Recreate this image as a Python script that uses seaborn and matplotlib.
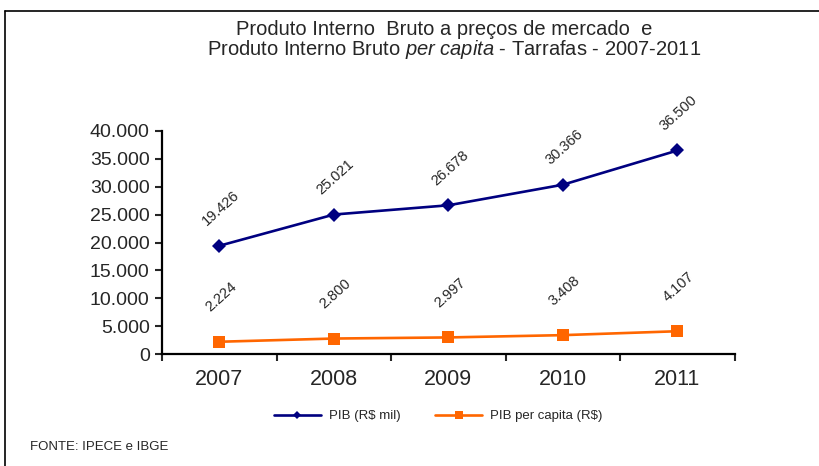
import seaborn as sns
import matplotlib.pyplot as plt
import matplotlib.lines as mlines
from matplotlib.ticker import FuncFormatter, FixedLocator
import pandas as pd

anos = ["2007", "2008", "2009", "2010", "2011"]
pib = [19426, 25021, 26678, 30366, 36500]
pib_per_capita = [2224, 2800, 2997, 3408, 4107]

cor_pib = "#000080"
cor_pc = "#FF6600"

sns.set_style("white")
plt.rcParams["font.family"] = ["Liberation Sans", "DejaVu Sans"]
plt.rcParams["mathtext.fontset"] = "custom"
plt.rcParams["mathtext.rm"] = "Liberation Sans"
plt.rcParams["mathtext.it"] = "Liberation Sans:italic"

df = pd.DataFrame({"Ano": anos, "PIB": pib, "PC": pib_per_capita})

fig = plt.figure(figsize=(8.19, 4.66), dpi=100)
ax = fig.add_axes([0.198, 0.240, 0.699, 0.479])

sns.lineplot(data=df, x="Ano", y="PIB", ax=ax, color=cor_pib, marker="D",
             markersize=7, markeredgewidth=0, linewidth=1.9, label="PIB (R$ mil)")
sns.lineplot(data=df, x="Ano", y="PC", ax=ax, color=cor_pc, marker="s",
             markersize=9, markeredgewidth=0, linewidth=1.9, label="PIB per capita (R$)")

fmt = lambda v: f"{v:,.0f}".replace(",", ".")
for i, (a, b) in enumerate(zip(pib, pib_per_capita)):
    ax.annotate(fmt(a), (i, a), xytext=(1, 27), textcoords="offset points",
                ha="center", va="center", rotation=42, fontsize=10.5)
    ax.annotate(fmt(b), (i, b), xytext=(1, 32), textcoords="offset points",
                ha="center", va="center", rotation=42, fontsize=10.5)

ax.set_xlim(-0.5, len(anos) - 0.5)
ax.set_ylim(0, 40000)
ax.set_yticks(range(0, 40001, 5000))
ax.yaxis.set_major_formatter(FuncFormatter(lambda v, p: fmt(v)))
ax.set_xticks(range(len(anos)))
ax.set_xticklabels(anos)
ax.xaxis.set_minor_locator(FixedLocator([i - 0.5 for i in range(len(anos) + 1)]))
ax.tick_params(axis="x", which="major", length=0, labelsize=15.5, pad=11)
ax.tick_params(axis="x", which="minor", length=5, width=1.5, direction="out", bottom=True)
ax.tick_params(axis="y", length=5, width=1.5, direction="out", left=True, labelsize=14, pad=4)
ax.set_xlabel("")
ax.set_ylabel("")
sns.despine(ax=ax)
for s in ["left", "bottom"]:
    ax.spines[s].set_linewidth(1.6)
    ax.spines[s].set_color("black")

handles, labels = ax.get_legend_handles_labels()
ax.get_legend().remove()
fig.legend(handles, labels, loc="center", bbox_to_anchor=(0.535, 0.107), ncol=2,
           frameon=False, fontsize=9.5, handlelength=3.6, handletextpad=0.6,
           columnspacing=2.6, markerscale=0.6)

fig.text(0.542, 0.937, "Produto Interno  Bruto a preços de mercado  e",
         ha="center", va="center", fontsize=14.5)
fig.text(0.555, 0.894, r"Produto Interno Bruto $\it{per\ capita}$ - Tarrafas - 2007-2011",
         ha="center", va="center", fontsize=14.5)
fig.text(0.037, 0.04, "FONTE: IPECE e IBGE", ha="left", va="center", fontsize=9.5)

# moldura
fig.add_artist(mlines.Line2D([0.006, 1.0], [0.976, 0.976], color="black", linewidth=1.2))
fig.add_artist(mlines.Line2D([0.006, 0.006], [0.0, 0.976], color="black", linewidth=1.2))

plt.savefig("out.png", dpi=100)
plt.close()
